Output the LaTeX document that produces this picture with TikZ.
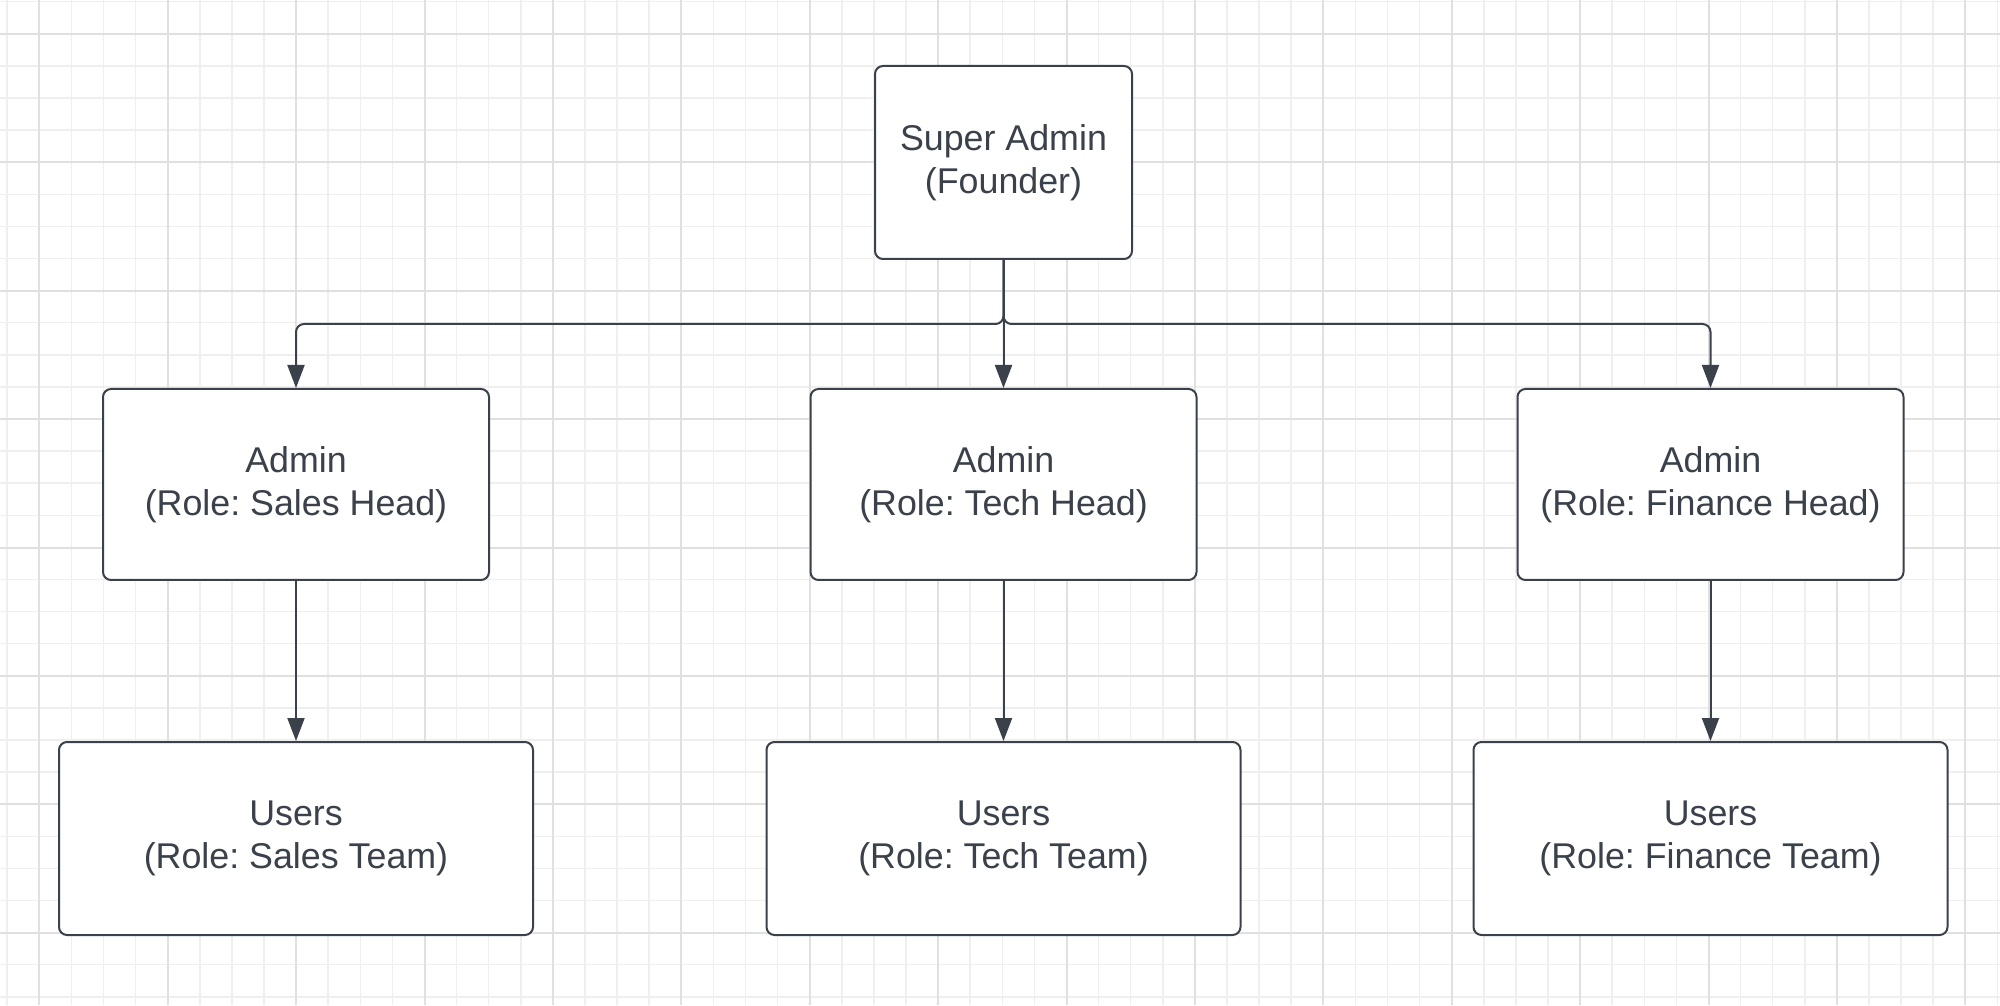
\documentclass[tikz,border=0pt]{standalone}
\usepackage{fontspec}
\setmainfont{Liberation Sans}
\usetikzlibrary{arrows.meta}
\frenchspacing
\definecolor{ink}{HTML}{3A414A}
\definecolor{gridminor}{HTML}{EFEFEF}
\definecolor{gridmajor}{HTML}{E0E0E0}
\tikzset{
  role/.style={draw=ink, line width=2pt, rounded corners=8pt, fill=white,
    text=ink, align=center, inner sep=0pt,
    font=\fontsize{35.8}{43}\selectfont},
  link/.style={draw=ink, line width=2pt, rounded corners=8pt,
    -{Triangle[length=23pt,width=17pt]}}
}

\begin{document}
\begin{tikzpicture}[x=1pt,y=1pt]
\useasboundingbox (0,0) rectangle (2000,1005);
\fill[white] (0,0) rectangle (2000,1005);
% background grid
\foreach \i in {0,...,62} {
  \draw[gridminor, line width=1.5pt] (7.2+32.1*\i,0) -- (7.2+32.1*\i,1005);
}
\foreach \j in {0,...,31} {
  \draw[gridminor, line width=1.5pt] (0,1003.3-32.1*\j) -- (2000,1003.3-32.1*\j);
}
\foreach \i in {0,...,15} {
  \draw[gridmajor, line width=2pt] (39.3+128.4*\i,0) -- (39.3+128.4*\i,1005);
}
\foreach \j in {0,...,7} {
  \draw[gridmajor, line width=2pt] (0,971-128.4*\j) -- (2000,971-128.4*\j);
}
% boxes
\node[role, minimum width=257pt, minimum height=193pt] (sa) at (1003.5,842.5) {Super Admin\\(Founder)};
\node[role, minimum width=386pt, minimum height=191pt] (sales) at (296,520.5) {Admin\\(Role: Sales Head)};
\node[role, minimum width=386pt, minimum height=191pt] (tech) at (1003.5,520.5) {Admin\\(Role: Tech Head)};
\node[role, minimum width=386pt, minimum height=191pt] (finance) at (1710.5,520.5) {Admin\\(Role: Finance Head)};
\node[role, minimum width=474pt, minimum height=193pt] (salesteam) at (296,166.5) {Users\\(Role: Sales Team)};
\node[role, minimum width=474pt, minimum height=193pt] (techteam) at (1003.5,166.5) {Users\\(Role: Tech Team)};
\node[role, minimum width=474pt, minimum height=193pt] (financeteam) at (1710.5,166.5) {Users\\(Role: Finance Team)};
% connectors
\coordinate (bus) at (1003.5,681);
\draw[link] (sa.south) -- (sa.south |- bus) -| (sales.north);
\draw[link] (sa.south) -- (tech.north);
\draw[link] (sa.south) -- (sa.south |- bus) -| (finance.north);
\draw[link] (sales) -- (salesteam);
\draw[link] (tech) -- (techteam);
\draw[link] (finance) -- (financeteam);
\end{tikzpicture}
\end{document}
